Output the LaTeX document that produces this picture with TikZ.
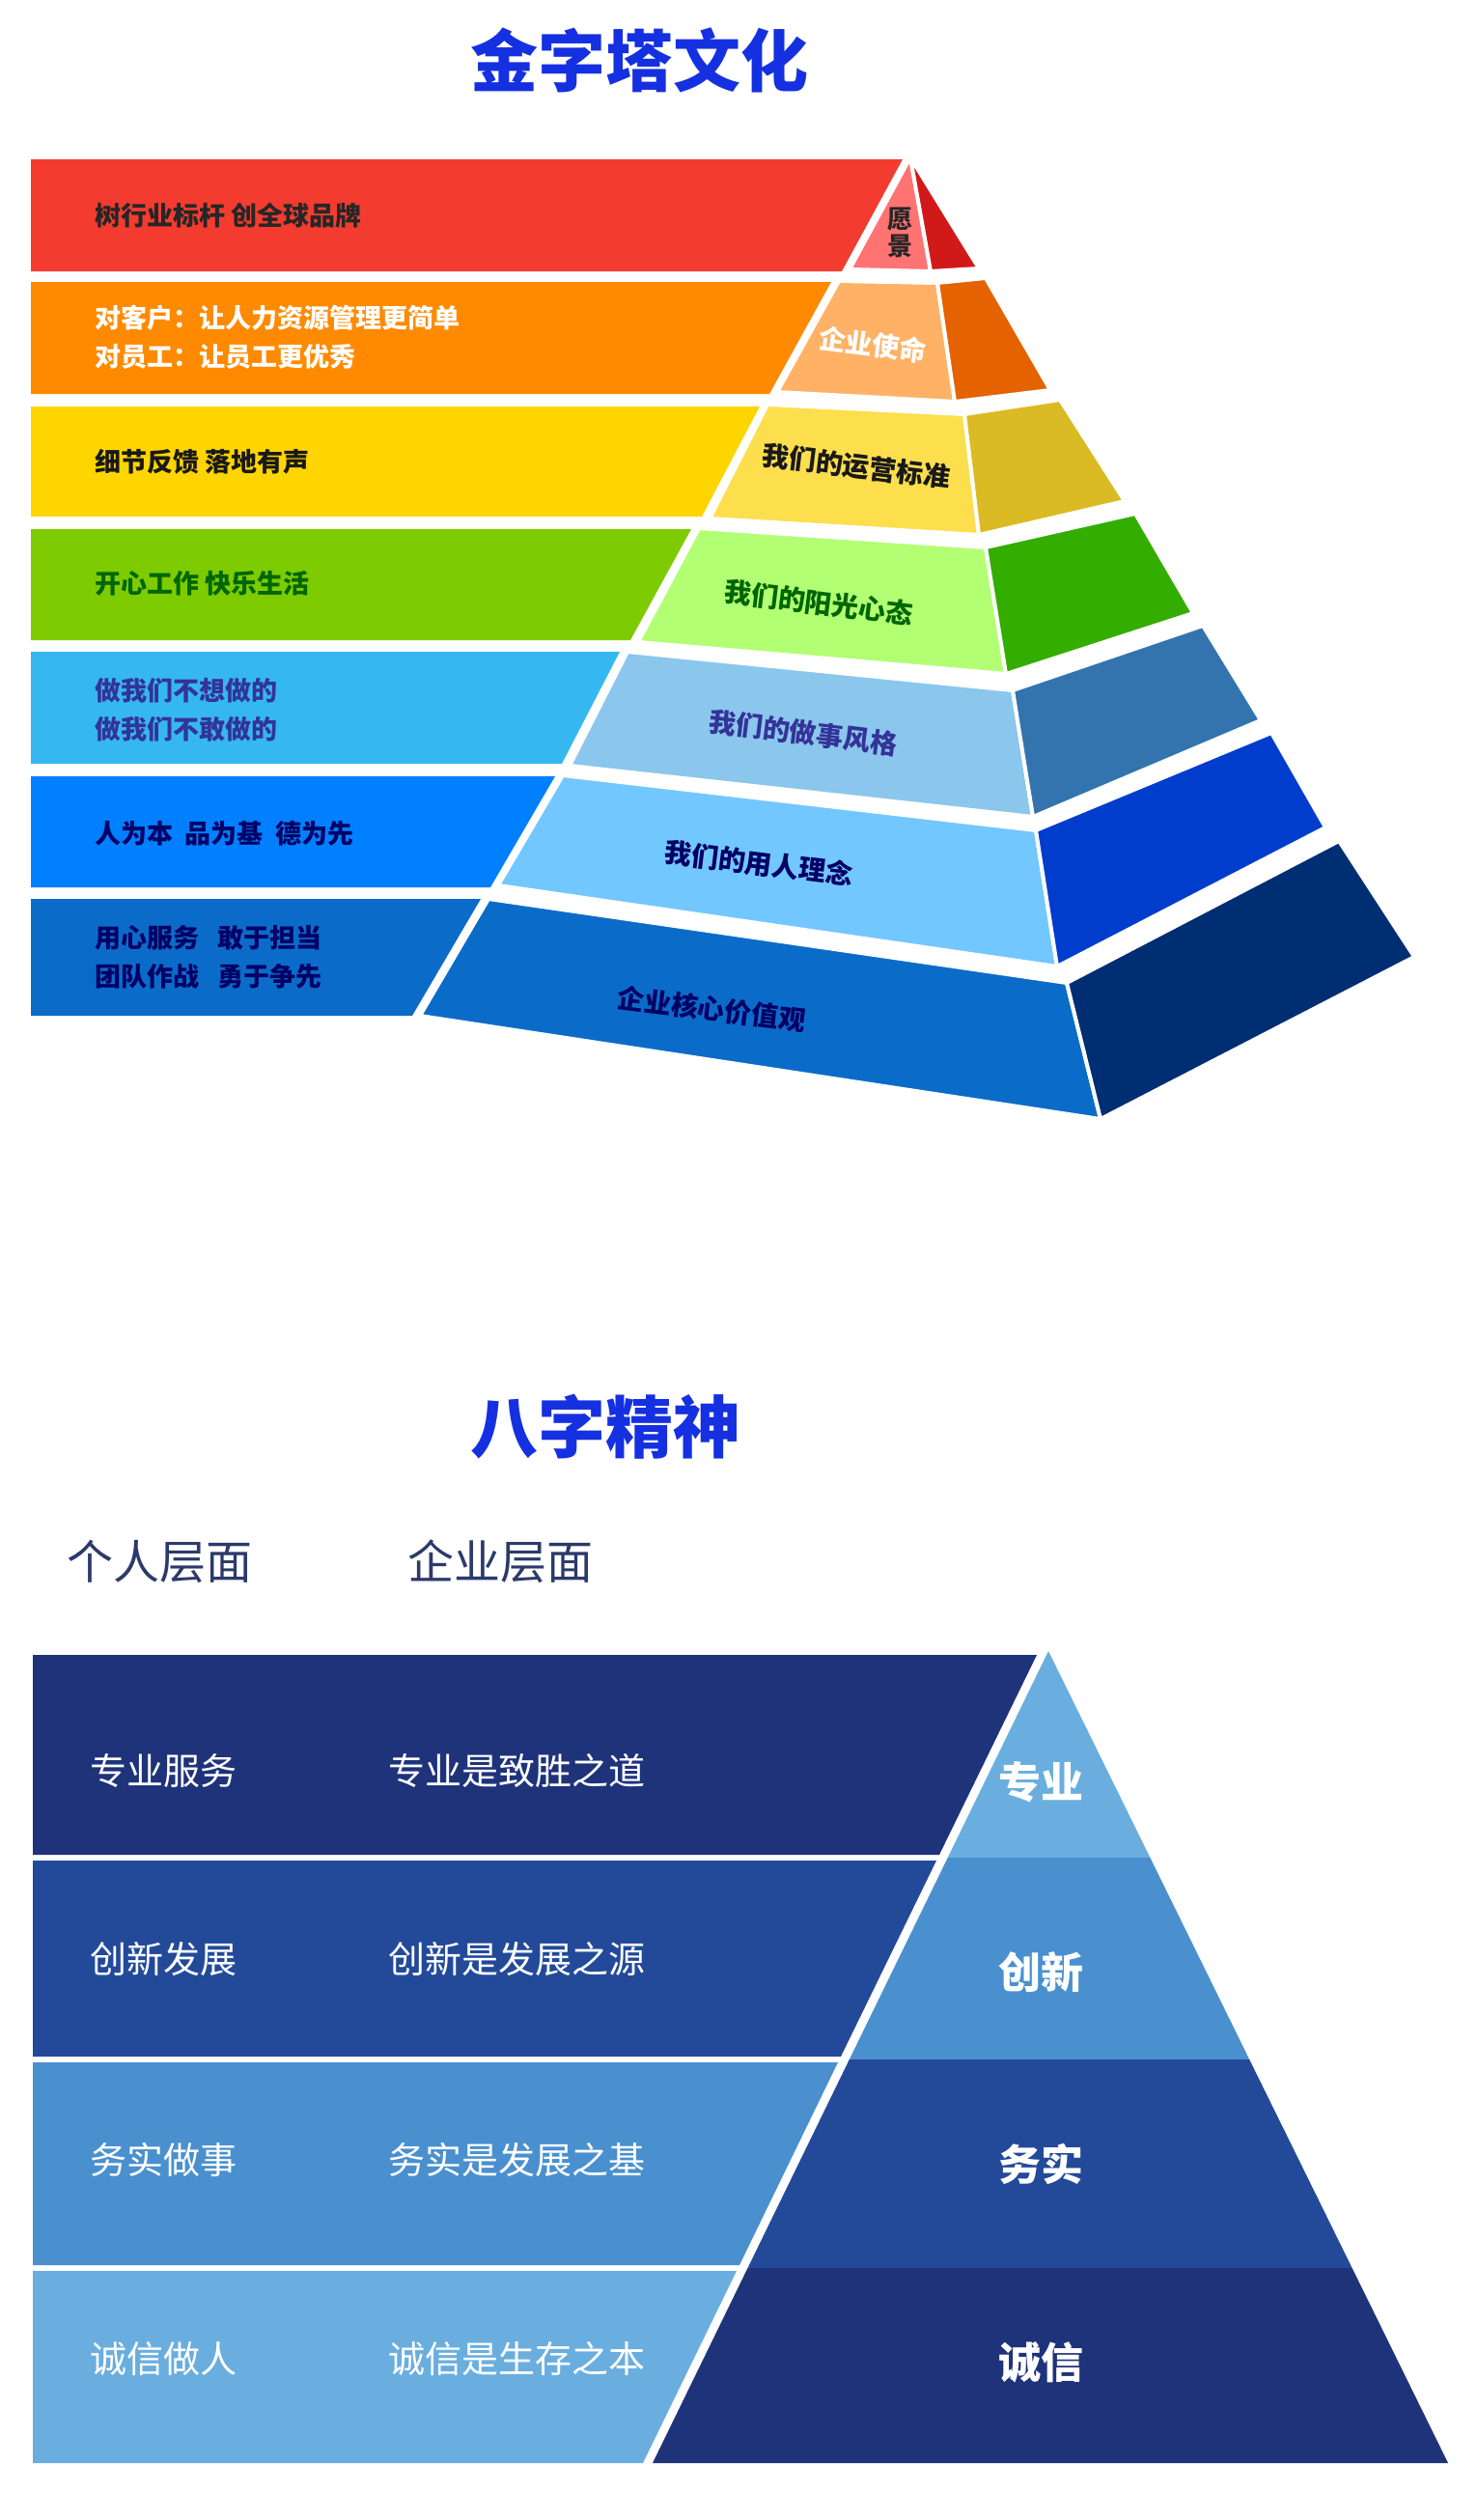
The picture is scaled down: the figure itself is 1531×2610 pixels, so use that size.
\documentclass[tikz,border=0pt]{standalone}
\usepackage{fontspec}
\newfontfamily\cjk{Noto Sans CJK SC}
\usetikzlibrary{calc}

% 金字塔の一段（前面・右面）
\newcommand{\pyrlayer}[8]{%
  \filldraw[layerline, fill=#1] #3 -- #4 -- #7 -- #6 -- cycle;
  \filldraw[layerline, fill=#2] #4 -- #5 -- #8 -- #7 -- cycle;
}

\definecolor{bandred}{HTML}{F33C2F}
\definecolor{bandorange}{HTML}{FF8A00}
\definecolor{bandyellow}{HTML}{FFD500}
\definecolor{bandgreen}{HTML}{7DCB00}
\definecolor{bandsky}{HTML}{35B8F0}
\definecolor{bandblue}{HTML}{0080FF}
\definecolor{bandbase}{HTML}{0A6CC8}
\definecolor{titleblue}{HTML}{1530E0}
\definecolor{navyA}{HTML}{1F337A}
\definecolor{navyB}{HTML}{234A99}
\definecolor{midblue}{HTML}{4A90CF}
\definecolor{lightblue}{HTML}{6AAEDF}
\definecolor{headgray}{HTML}{2B3A6A}

\begin{document}
\begin{tikzpicture}[x=1pt, y=-1pt,
    layerline/.style={draw=white, line width=4pt, line join=round},
    bandtext/.style={anchor=west, font=\cjk\bfseries\fontsize{27}{40}\selectfont, align=left},
    pyrtext/.style={font=\cjk\bfseries\fontsize{28}{30}\selectfont, rotate=-7},
    whitetext/.style={anchor=west, text=white, font=\cjk\fontsize{38}{40}\selectfont},
    tritext/.style={text=white, font=\cjk\bfseries\fontsize{44}{46}\selectfont},
    headtext/.style={anchor=west, text=headgray, font=\cjk\fontsize{48}{50}\selectfont},
    titletext/.style={text=titleblue, font=\cjk\bfseries\fontsize{70}{72}\selectfont}]
    \useasboundingbox (0,0) rectangle (1531,2610);

    % --- 金字塔文化 ---
    \node[titletext] (title1) at (662,62) {金字塔文化};

    % --- 左側の帯 ---
    \fill[bandred]    (32,165) -- (935,165) -- (872,281) -- (32,281) -- cycle;
    \fill[bandorange] (32,292) -- (861,292) -- (797,408) -- (32,408) -- cycle;
    \fill[bandyellow] (32,421) -- (787,421) -- (727,535) -- (32,535) -- cycle;
    \fill[bandgreen]  (32,548) -- (716,548) -- (653,663) -- (32,663) -- cycle;
    \fill[bandsky]    (32,675) -- (642,675) -- (582,791) -- (32,791) -- cycle;
    \fill[bandblue]   (32,804) -- (575,804) -- (508,919) -- (32,919) -- cycle;
    \fill[bandbase]   (32,931) -- (498,931) -- (427,1052) -- (32,1052) -- cycle;

    % --- 立体の段 ---
    \pyrlayer{red!55!white}{red!80!black!90}{(943,163)}{(943,163)}{(943,163)}{(880,279)}{(964,281)}{(1014,278)}
    \pyrlayer{orange!60!white}{orange!85!red!90!black}{(869,291)}{(971,293)}{(1021,288)}{(805,406)}{(989,416)}{(1088,404)}
    \pyrlayer{yellow!70!orange!70!white}{yellow!70!orange!85!black}{(795,419)}{(999,429)}{(1098,414)}{(735,537)}{(1014,554)}{(1165,519)}
    \pyrlayer{green!55!yellow!55!white}{green!60!black!80!yellow}{(724,547)}{(1021,567)}{(1176,532)}{(661,665)}{(1042,698)}{(1236,635)}
    \pyrlayer{cyan!40!white!90!blue}{cyan!60!blue!80!black}{(650,675)}{(1049,715)}{(1246,648)}{(590,793)}{(1070,846)}{(1306,746)}
    \pyrlayer{blue!40!cyan!55!white}{blue!70!cyan!80!black}{(583,803)}{(1073,860)}{(1317,759)}{(516,917)}{(1095,1001)}{(1373,857)}
    \pyrlayer{bandbase}{blue!60!cyan!45!black}{(506,931)}{(1105,1018)}{(1387,871)}{(435,1052)}{(1140,1159)}{(1465,991)}

    % 帯の文字
    \node[bandtext, text=black!85] (vision) at (95,223) {树行业标杆\ 创全球品牌};
    \node[bandtext, text=white] (mission) at (95,349) {对客户：让人力资源管理更简单\\对员工：让员工更优秀};
    \node[bandtext, text=black!90] (ops) at (95,478) {细节反馈\ 落地有声};
    \node[bandtext, text=green!40!black] (mind) at (95,604) {开心工作\ 快乐生活};
    \node[bandtext, text=blue!50!black!80] (style) at (95,735) {做我们不想做的\\做我们不敢做的};
    \node[bandtext, text=blue!40!black] (hr) at (95,863) {人为本\ \ 品为基\ \ 德为先};
    \node[bandtext, text=blue!40!black] (value) at (95,991) {用心服务\ \ \ 敢于担当\\团队作战\ \ \ 勇于争先};

    % 金字塔の文字
    \node[pyrtext, rotate=7, align=center, text=black!85, font=\cjk\bfseries\fontsize{26}{28}\selectfont] (visionlbl) at (932,241) {愿\\景};
    \node[pyrtext, text=white] (missionlbl) at (904,357) {企业使命};
    \node[pyrtext, text=black!90] (opslbl) at (887,483) {我们的运营标准};
    \node[pyrtext, text=green!40!black] (mindlbl) at (848,624) {我们的阳光心态};
    \node[pyrtext, text=blue!50!black!80] (stylelbl) at (832,759) {我们的做事风格};
    \node[pyrtext, text=blue!40!black] (hrlbl) at (786,894) {我们的用人理念};
    \node[pyrtext, text=blue!40!black] (valuelbl) at (737,1045) {企业核心价值观};

    % --- 八字精神 ---
    \node[titletext] (title2) at (627,1478) {八字精神};
    \node[headtext] (personal) at (66,1617) {个人层面};
    \node[headtext] (company) at (419,1617) {企业层面};

    % 左側の帯
    \fill[navyA]     (34,1714) -- (1074,1714) -- (973,1921) -- (34,1921) -- cycle;
    \fill[navyB]     (34,1927) -- (970,1927) -- (871,2130) -- (34,2130) -- cycle;
    \fill[midblue]   (34,2136) -- (868,2136) -- (766,2346) -- (34,2346) -- cycle;
    \fill[lightblue] (34,2352) -- (763,2352) -- (666,2551) -- (34,2551) -- cycle;

    % 三角形
    \fill[lightblue] (1086,1710) -- (1191.4,1924) -- (981.7,1924) -- cycle;
    \fill[midblue]   (981.7,1924) -- (1191.4,1924) -- (1294.2,2133) -- (879.8,2133) -- cycle;
    \fill[navyB]     (879.8,2133) -- (1294.2,2133) -- (1400.6,2349) -- (774.5,2349) -- cycle;
    \fill[navyA]     (774.5,2349) -- (1400.6,2349) -- (1500,2551) -- (676,2551) -- cycle;

    \foreach \y/\a/\b/\c/\d/\e/\f in {1834/专业服务/专业是致胜之道/专业/1846/a/1,
                                 2029/创新发展/创新是发展之源/创新/2043/b/2,
                                 2237/务实做事/务实是发展之基/务实/2241/c/3,
                                 2443/诚信做人/诚信是生存之本/诚信/2447/d/4} {
        \node[whitetext] (per\e) at (90,\y) {\a};
        \node[whitetext] (com\e) at (399,\y) {\b};
        \node[tritext] (tri\e) at (1078,\d) {\c};
    }

\end{tikzpicture}
\end{document}
